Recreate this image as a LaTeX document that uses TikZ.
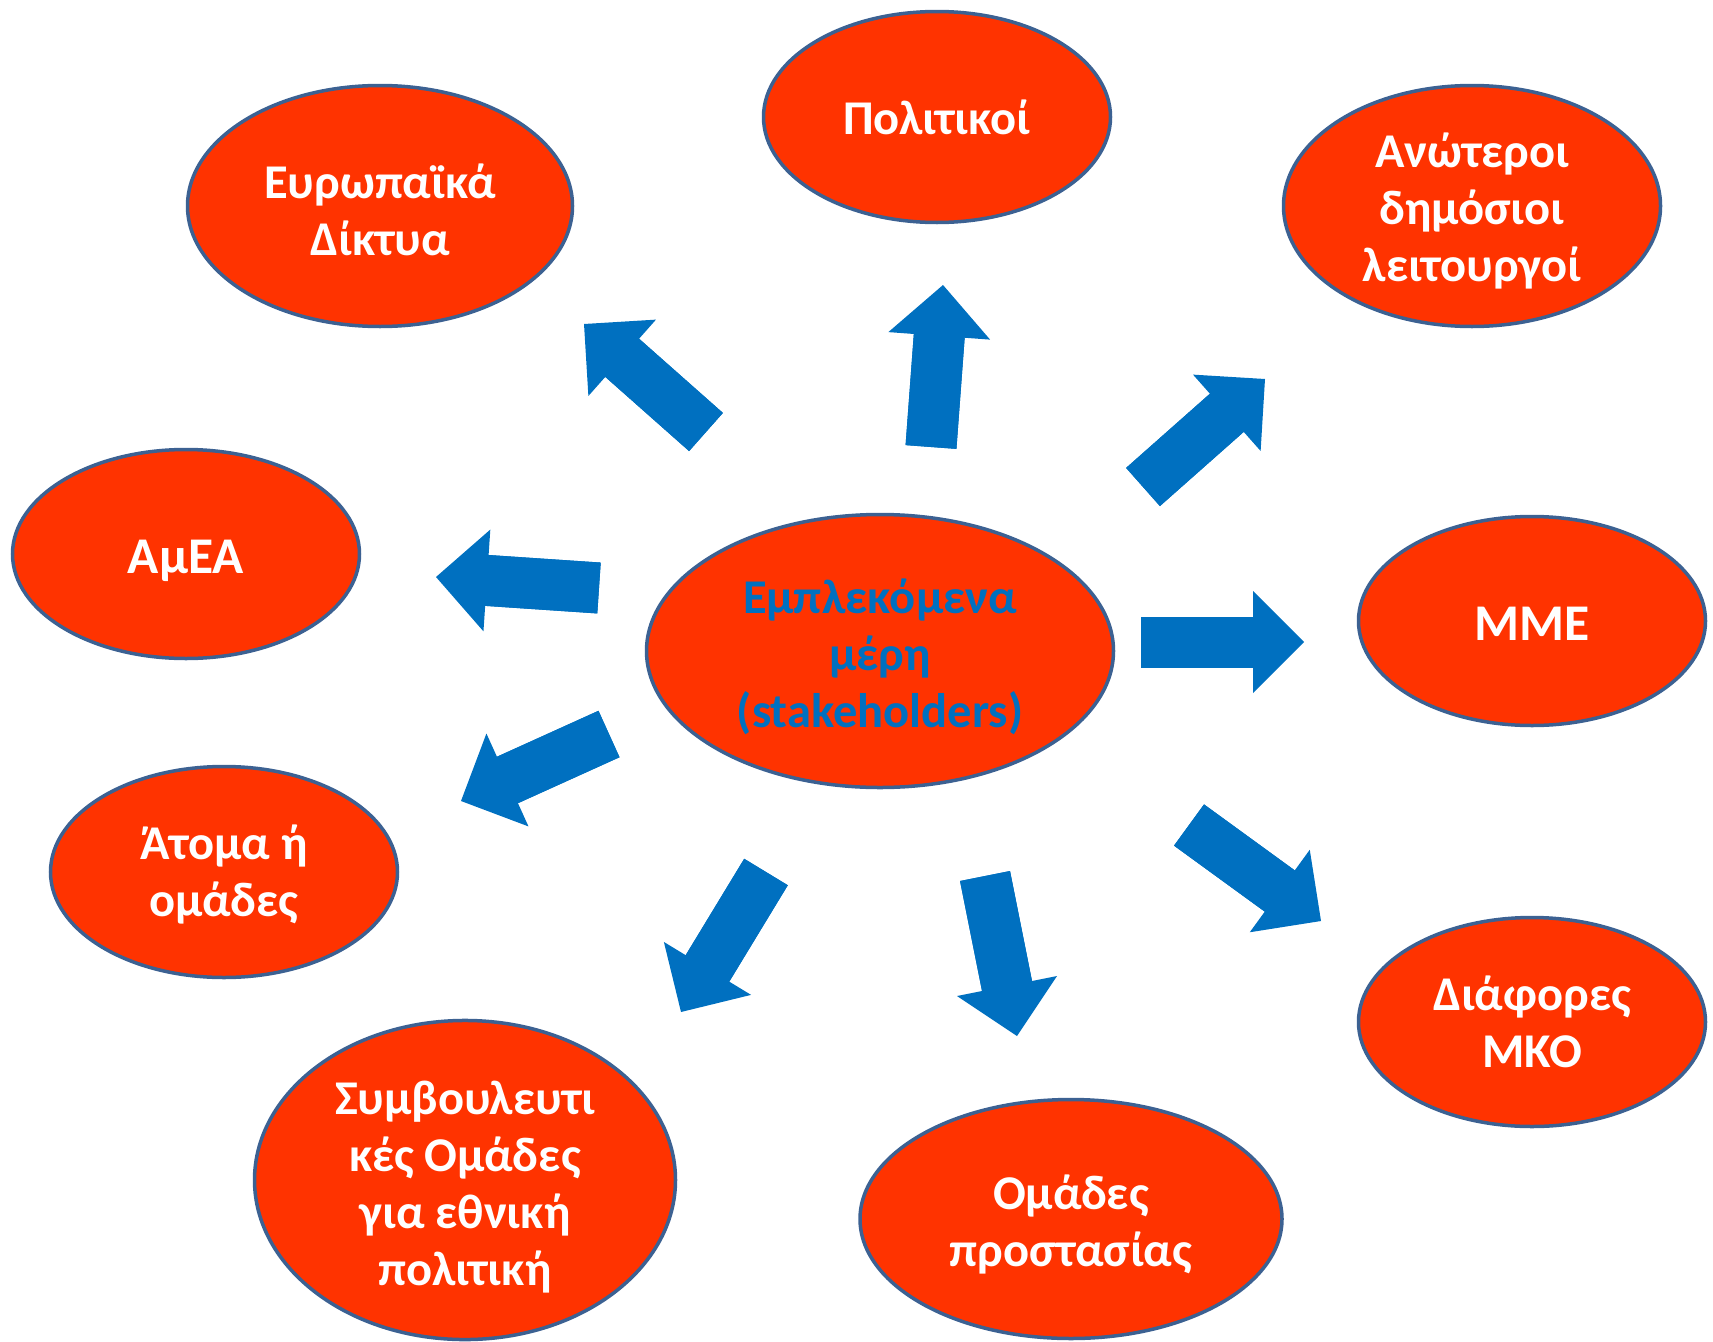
\documentclass[tikz,border=0pt]{standalone}
\usepackage{fontspec}
\setmainfont{Carlito}
\usetikzlibrary{arrows.meta,calc,shapes.geometric}
\definecolor{kokkino}{HTML}{FF3300}
\definecolor{perigr}{HTML}{3C6192}
\definecolor{mple}{HTML}{0070C0}
\newcommand{\kena}[1]{\rule{0pt}{#1}}

\begin{document}
\begin{tikzpicture}[x=1pt, y=-1pt,
  ell/.style={ellipse, draw=perigr, line width=3.5pt, fill=kokkino, inner sep=0pt,
    align=center, text=white, font=\fontsize{48.5}{57}\selectfont\bfseries},
  megalo/.style={font=\fontsize{51.5}{57}\selectfont\bfseries},
  arr/.style={draw=mple, line width=51pt, -{Triangle[length=51pt, width=102pt, line width=0pt]}},
  stelexos/.style={draw=mple, line width=51pt}]

\useasboundingbox (0,0) rectangle (1713,1341);

% kentriko
\node[ell, text=mple, minimum width=467pt, minimum height=273pt] (HUB) at (880,651) {\kena{46pt}Εμπλεκόμενα\\μέρη\\(stakeholders)};

% gyro
\node[ell, minimum width=347pt, minimum height=211pt] (POL) at (937,117) {Πολιτικοί};
\node[ell, minimum width=385pt, minimum height=241pt] (EUR) at (380,206) {\kena{42pt}Ευρωπαϊκά\\Δίκτυα};
\node[ell, minimum width=377pt, minimum height=241pt] (ANW) at (1472,206) {\kena{44pt}Ανώτεροι\\δημόσιοι\\λειτουργοί};
\node[ell, megalo, minimum width=347pt, minimum height=209pt] (AMEA) at (186,554) {\kena{47pt}ΑμΕΑ};
\node[ell, megalo, minimum width=347pt, minimum height=209pt] (MME) at (1532,621) {\kena{38pt}ΜΜΕ};
\node[ell, minimum width=347pt, minimum height=211pt] (ATOMA) at (224,872) {\kena{40pt}Άτομα ή\\ομάδες};
\node[ell, minimum width=347pt, minimum height=209pt] (MKO) at (1532,1022) {Διάφορες\\ΜΚΟ};
\node[ell, minimum width=421pt, minimum height=313pt] (SYMV) at (465,1180) {\kena{47pt}Συμβουλευτι\\κές Ομάδες\\για εθνική\\πολιτική};
\node[ell, minimum width=422pt, minimum height=239pt] (OMAD) at (1071,1219) {\kena{45pt}Ομάδες\\προστασίας};

% velh
\coordinate (t1) at (706,432);  \coordinate (h1) at (584,324);
\coordinate (t2) at (931,447);  \coordinate (h2) at (943,285);
\coordinate (t3) at (1143,487); \coordinate (h3) at (1265,379);
\coordinate (t4) at (1141,642); \coordinate (h4) at (1304,642);
\coordinate (t5) at (1189,825); \coordinate (h5) at (1321,921);
\coordinate (t6) at (985,876);  \coordinate (h6) at (1017,1036);
\coordinate (t7) at (766,872);  \coordinate (h7) at (681,1012);
\coordinate (t8) at (609,734);  \coordinate (h8) at (461,801);
\coordinate (t9) at (599,588);  \coordinate (h9) at (436,577);
\foreach \i in {1,...,9}{
  \draw[arr] (t\i) -- (h\i);
  \draw[stelexos] (t\i) -- ($(t\i)!0.8!(h\i)$);
}

\end{tikzpicture}
\end{document}
